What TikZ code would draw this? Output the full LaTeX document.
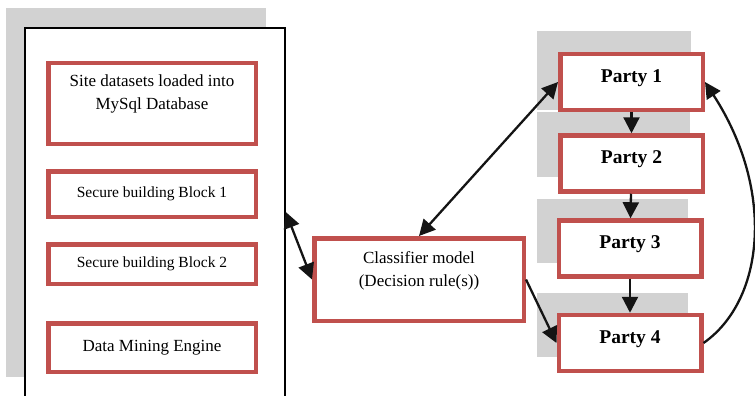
\documentclass[tikz,border=0pt]{standalone}
\usepackage{fontspec}
\setmainfont{Liberation Serif}
\usepackage{xcolor}
\usetikzlibrary{arrows.meta,positioning}
\definecolor{boxred}{HTML}{C0504D}
\definecolor{sombra}{HTML}{D2D2D2}

\begin{document}
\begin{tikzpicture}[x=1pt, y=1pt,
  caja/.style={draw=boxred, line width=4.5pt, fill=white, align=center, inner sep=0pt,
               font=\fontsize{17}{23}\selectfont},
  bloque/.style={caja, font=\fontsize{15.5}{20}\selectfont},
  parte/.style={caja, minimum width=142.5pt, minimum height=56pt, text height=13pt,
                text depth=13pt, font=\fontsize{19.5}{23}\selectfont\bfseries},
  flecha/.style={-{Triangle[length=16pt,width=16pt]}, line width=2.3pt, black!92},
  doble/.style={{Triangle[length=16pt,width=16pt]}-{Triangle[length=16pt,width=16pt]},
                line width=2.3pt, black!92}]
\useasboundingbox (0,0) rectangle (755,-396);
\clip (0,0) rectangle (755,-396);
% shadows
\fill[sombra] (6,-8) rectangle (266,-377);
\fill[sombra] (537,-31) rectangle (691,-110);
\fill[sombra] (537,-112) rectangle (690,-177);
\fill[sombra] (537,-199) rectangle (688,-263);
\fill[sombra] (537,-293) rectangle (688,-357);
% site
\node[draw, line width=1.5pt, fill=white, minimum width=260pt, minimum height=392pt,
      inner sep=0pt] (site) at (155,-224) {};
\node[caja, minimum width=207.5pt, minimum height=80.5pt] (db) at (152,-103.5)
  {Site datasets loaded into\\MySql Database\\[-8pt] \strut};
\node[bloque, minimum width=207.5pt, minimum height=45.5pt] (sb1) at (152,-194) {Secure building Block 1};
\node[bloque, minimum width=207.5pt, minimum height=39.5pt] (sb2) at (152,-264) {Secure building Block 2};
\node[caja, minimum width=207.5pt, minimum height=48.5pt] (dme) at (152,-347.5) {Data Mining Engine};
% classifier
\node[caja, minimum width=209.5pt, minimum height=82.5pt] (cls) at (419,-279.5)
  {Classifier model\\(Decision rule(s))\\[-8pt] \strut};
% parties
\node[parte] (p1) at (631.5,-82) {Party 1};
\node[parte] (p2) at (631.5,-163.5) {Party 2};
\node[parte] (p3) at (630,-248.5) {Party 3};
\node[parte] (p4) at (630,-343) {Party 4};
% arrows
\draw[doble] ([yshift=12pt]site.east) -- (cls.west);
\draw[doble] (cls.north) -- (p1.west);
\draw[flecha] (cls.east) -- (p4.west);
\draw[flecha] (p1) -- (p2);
\draw[flecha] (p2) -- (p3);
\draw[flecha] (p3) -- (p4);
\draw[flecha] (p4.east) .. controls (765,-300) and (775,-190) .. (p1.east);
\end{tikzpicture}
\end{document}
